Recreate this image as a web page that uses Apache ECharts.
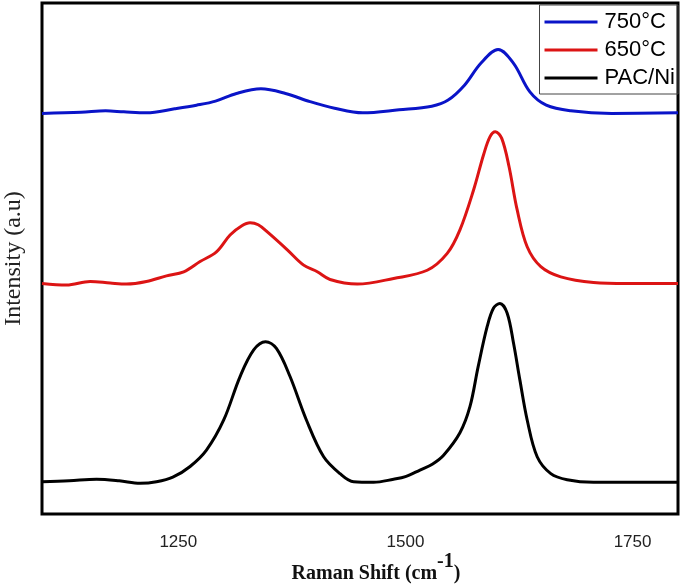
<!DOCTYPE html>
<html>
<head>
<meta charset="utf-8">
<script src="https://cdn.jsdelivr.net/npm/echarts@6/dist/echarts.min.js"></script>
<style>html,body{margin:0;padding:0;background:#fff}#c{width:685px;height:584px}</style>
</head>
<body>
<div id="c"></div>
<script>
var seriesNames = ['750°C', '650°C', 'PAC/Ni'];
var xTickLabels = [1250, 1500, 1750];

var shift750 = [1100,1143,1170,1190,1215,1246,1270,1291,1314,1341,1368,1395,1422,1453,1493,1529,1547,1565,1583,1602,1619,1637,1655,1682,1727,1800];
var int750   = [78.4,78.6,78.9,78.7,78.5,79.3,80.0,80.8,82.3,83.2,82.3,80.7,79.4,78.5,79.1,79.8,81.0,83.9,88.2,90.9,88.2,82.6,80.0,78.9,78.4,78.5];

var shift650 = [1100,1127,1153,1175,1193,1215,1237,1256,1274,1292,1307,1320,1329,1338,1348,1370,1388,1403,1417,1447,1487,1524,1546,1560,1575,1586,1593,1599,1606,1614,1623,1634,1649,1671,1707,1744,1800];
var int650   = [45.1,44.8,45.5,45.2,45.0,45.5,46.6,47.4,49.4,51.3,54.6,56.4,57.0,56.6,55.2,51.7,48.7,47.4,45.9,45.0,46.1,47.7,51.0,55.6,63.4,70.3,73.8,74.8,73.5,68.0,59.5,52.3,48.4,46.4,45.3,45.1,45.1];

var shiftPAC = [1100,1130,1160,1185,1208,1226,1244,1263,1281,1300,1318,1333,1346,1358,1373,1391,1410,1428,1443,1465,1487,1500,1516,1530,1542,1560,1571,1580,1590,1597,1604,1612,1619,1626,1634,1645,1660,1678,1707,1744,1800];
var intPAC   = [6.3,6.5,6.8,6.5,6.0,6.3,7.2,9.3,12.5,18.4,26.9,32.1,33.7,32.4,26.9,18.4,11.2,7.9,6.3,6.2,6.8,7.3,8.6,9.8,11.5,15.9,21.0,28.8,36.7,40.3,41.2,39.3,33.4,26.2,18.4,11.2,7.9,6.7,6.2,6.2,6.2];

function zip(a, b) { return a.map(function (v, i) { return [v, b[i]]; }); }

var colors = ['#0a14c8', '#dc1414', '#000000'];
var chart = echarts.init(document.getElementById('c'));
chart.setOption({
  animation: false,
  grid: { left: 42, right: 7, top: 3, bottom: 70, containLabel: false, outerBoundsMode: 'none', show: true, borderColor: '#000', borderWidth: 3, backgroundColor: '#fff' },
  legend: {
    orient: 'vertical', right: 7, top: 5,
    data: seriesNames, icon: 'rect', itemWidth: 53, itemHeight: 3, itemGap: 6,
    borderColor: '#444', borderWidth: 1, padding: [6, 3, 5, 5],
    textStyle: { fontSize: 22, fontFamily: 'Liberation Sans, Arial, sans-serif', color: '#000', padding: [0, 0, 0, 2] }
  },
  xAxis: {
    type: 'value', min: 1100, max: 1800, interval: 50,
    axisLine: { show: false }, axisTick: { show: false }, splitLine: { show: false },
    axisLabel: {
      margin: 20, fontSize: 17, color: '#222', fontFamily: 'Liberation Sans, Arial, sans-serif',
      formatter: function (v) { return xTickLabels.indexOf(v) >= 0 ? String(v) : ''; }
    },
    name: '{m|Raman Shift (cm}{s|-1}{m|)}', nameLocation: 'middle', nameGap: 48, nameMoveOverlap: false,
    nameTextStyle: {
      padding: [0, 0, 0, 32],
      rich: {
        m: { fontSize: 20, fontWeight: 'bold', fontFamily: 'Liberation Serif, Times New Roman, serif', color: '#111', lineHeight: 22, verticalAlign: 'bottom' },
        s: { fontSize: 20, fontWeight: 'bold', fontFamily: 'Liberation Serif, Times New Roman, serif', color: '#111', lineHeight: 22, verticalAlign: 'bottom', padding: [0, 0, 12, 0] }
      }
    }
  },
  yAxis: {
    type: 'value', min: 0, max: 100,
    axisLine: { show: false }, axisTick: { show: false }, splitLine: { show: false }, axisLabel: { show: false },
    name: 'Intensity (a.u)', nameLocation: 'middle', nameGap: 16, nameMoveOverlap: false,
    nameTextStyle: { fontSize: 24, fontFamily: 'Liberation Serif, Times New Roman, serif', color: '#222' }
  },
  series: [
    { name: seriesNames[0], type: 'line', data: zip(shift750, int750), showSymbol: false, smooth: 0.35, lineStyle: { width: 3, color: colors[0] }, itemStyle: { color: colors[0] } },
    { name: seriesNames[1], type: 'line', data: zip(shift650, int650), showSymbol: false, smooth: 0.35, lineStyle: { width: 3, color: colors[1] }, itemStyle: { color: colors[1] } },
    { name: seriesNames[2], type: 'line', data: zip(shiftPAC, intPAC), showSymbol: false, smooth: 0.35, lineStyle: { width: 3, color: colors[2] }, itemStyle: { color: colors[2] } }
  ]
});
</script>
</body>
</html>
